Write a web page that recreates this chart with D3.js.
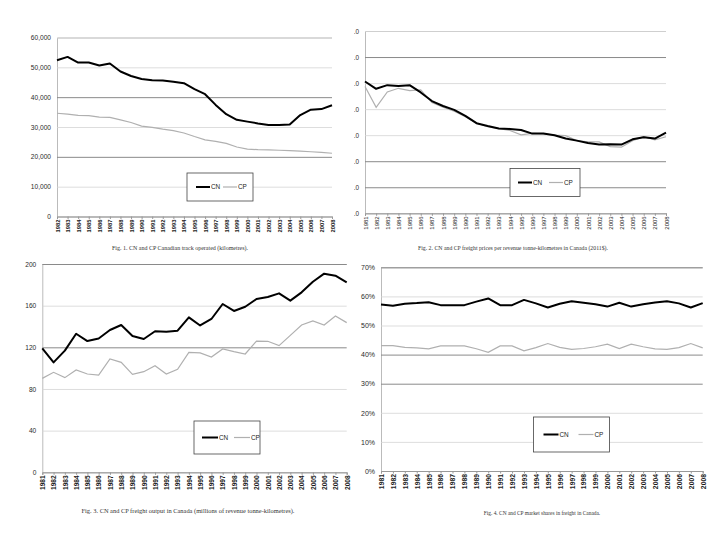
<!DOCTYPE html>
<html>
<head>
<meta charset="utf-8">
<script src="https://cdn.jsdelivr.net/npm/d3@7"></script>
<style>
  body { margin: 0; background: #fff; }
  svg { display: block; }
</style>
</head>
<body>
<svg id="chart" width="720" height="540"></svg>
<script>
// years on the x axis (fig. 1 starts one year later)
const yearsTrack = ["1982","1983","1984","1985","1986","1987","1988","1989","1990","1991","1992","1993","1994","1995",
  "1996","1997","1998","1999","2000","2001","2002","2003","2004","2005","2006","2007","2008"];
const years = ["1981","1982","1983","1984","1985","1986","1987","1988","1989","1990","1991","1992","1993","1994","1995",
  "1996","1997","1998","1999","2000","2001","2002","2003","2004","2005","2006","2007","2008"];

// Fig. 1 track operated (km)
const trackCN = [52400,53500,51600,51600,50600,51300,48600,47100,46100,45700,45600,45200,44700,42700,41000,
  37400,34300,32400,31800,31200,30700,30700,30800,34000,35800,36000,37300];
const trackCP = [34600,34300,33900,33800,33300,33200,32400,31500,30300,29900,29300,28800,28000,26800,25700,
  25200,24500,23300,22600,22400,22300,22200,22100,21900,21700,21500,21200];
const trackTicks = [0,10000,20000,30000,40000,50000,60000];

// Fig. 2 freight prices per revenue tonne-km
const priceCN = [5.06,4.78,4.92,4.89,4.92,4.64,4.31,4.12,3.97,3.74,3.46,3.35,3.26,3.24,3.20,3.06,3.06,3.00,2.87,
  2.79,2.70,2.64,2.65,2.64,2.84,2.92,2.87,3.10];
const priceCP = [4.87,4.07,4.66,4.80,4.71,4.74,4.25,4.07,3.92,3.71,3.46,3.33,3.25,3.18,3.01,3.07,3.05,3.00,2.98,
  2.79,2.74,2.74,2.56,2.54,2.79,2.94,2.82,2.94];
const priceTicks = [0,1,2,3,4,5,6,7];

// Fig. 3 freight output
const outputCN = [119,105.5,116.8,133,126,128.5,136.6,141.4,130.9,128,135.4,135,136,148.8,141,147.2,161.6,154.9,
  159,166.4,168.3,171.8,164.8,172.8,183,190.7,188.8,182.4];
const outputCP = [90.2,96,90.9,98.2,94.4,93.4,108.8,105.6,94,96.6,102.4,94.4,98.9,115.2,114.6,110.7,118.4,115.8,
  113.6,126,125.8,121.6,131.5,141.4,145.3,141.4,150,143.7];
const outputTicks = [0,40,80,120,160,200];

// Fig. 4 market shares (%)
const shareCN = [57.2,56.8,57.5,57.7,58.0,57.0,57.0,57.0,58.2,59.3,57.0,57.0,58.8,57.6,56.2,57.5,58.3,57.8,57.3,
  56.5,57.8,56.5,57.3,57.9,58.3,57.6,56.2,57.7];
const shareCP = [43.1,43.1,42.5,42.3,42.0,43.0,43.0,43.0,42.0,40.8,43.0,43.0,41.3,42.4,43.8,42.5,41.8,42.1,42.7,
  43.6,42.1,43.6,42.7,42.0,41.8,42.4,43.8,42.3];
const shareTicks = [0,10,20,30,40,50,60,70];

const panels = [
  { years: yearsTrack, cn: trackCN, cp: trackCP, ticks: trackTicks, fmt: d3.format(","),
    left: 57, right: 332, top: 37.5, bottom: 216.5, darkGrid: [40000, 20000],
    legend: { x: 187, y: 173, w: 66, h: 28, cnOff: 9, cpOff: 36, len: 14 },
    caption: "Fig. 1. CN and CP Canadian track operated (kilometres).", capX: 180, capY: 250, capSize: 6,
    yFont: 6.6, xFont: 5.8, xBold: true },
  { years: years, cn: priceCN, cp: priceCP, ticks: priceTicks, fmt: d3.format(".1f"),
    left: 365, right: 666, top: 31, bottom: 213.3, darkGrid: [6, 2, 1], clipLeft: 354,
    legend: { x: 510, y: 168.5, w: 70, h: 28, cnOff: 8, cpOff: 39, len: 14 },
    caption: "Fig. 2. CN and CP freight prices per revenue tonne-kilometres in Canada (2011$).", capX: 513, capY: 250, capSize: 5.8,
    yFont: 6.4, xFont: 6 },
  { years: years, cn: outputCN, cp: outputCP, ticks: outputTicks, fmt: d3.format("d"),
    left: 42.3, right: 346.7, top: 264, bottom: 472.3, darkGrid: [200, 120],
    legend: { x: 194, y: 421, w: 66, h: 33, cnOff: 8, cpOff: 40, len: 16 },
    caption: "Fig. 3. CN and CP freight output in Canada (millions of revenue tonne-kilometres).", capX: 188, capY: 513, capSize: 6.4,
    yFont: 6.6, xFont: 6.6, xBold: true },
  { years: years, cn: shareCN, cp: shareCP, ticks: shareTicks, fmt: d => d + "%",
    left: 381, right: 702.7, top: 267.3, bottom: 471, darkGrid: [70, 40, 30],
    legend: { x: 533.5, y: 417, w: 76, h: 35, cnOff: 10, cpOff: 45, len: 15 },
    caption: "Fig. 4. CN and CP market shares in freight in Canada.", capX: 542, capY: 515, capSize: 5.4,
    yFont: 7, xFont: 6.8, xBold: true }
];

const svg = d3.select("#chart");
svg.append("rect").attr("width", 720).attr("height", 540).attr("fill", "#fff");

panels.forEach((p, i) => {
  let g = svg.append("g");
  if (p.clipLeft) {
    svg.append("clipPath").attr("id", "clip" + i)
      .append("rect").attr("x", p.clipLeft).attr("y", 0).attr("width", 720 - p.clipLeft).attr("height", 260);
    g.attr("clip-path", `url(#clip${i})`);
  }

  const x = d3.scalePoint().domain(p.years).range([p.left, p.right]).padding(0);
  const y = d3.scaleLinear().domain([0, d3.max(p.ticks)]).range([p.bottom, p.top]);

  // y axis with gridlines
  const yAxis = g.append("g")
    .attr("transform", `translate(${p.left},0)`)
    .call(d3.axisLeft(y).tickValues(p.ticks).tickFormat(p.fmt).tickSize(-(p.right - p.left)).tickPadding(6));
  yAxis.select(".domain").attr("stroke", "#bbb");
  yAxis.selectAll(".tick line")
    .attr("stroke", d => p.darkGrid.includes(d) ? "#8a8a8a" : "#d4d4d4")
    .attr("stroke-width", d => p.darkGrid.includes(d) ? 1 : 0.8);
  yAxis.selectAll("text")
    .attr("fill", "#2a2a2a")
    .style("font-family", "'Liberation Sans', Arial, sans-serif")
    .style("font-size", p.yFont + "px");

  // x axis, labels rotated
  const xAxis = g.append("g")
    .attr("transform", `translate(0,${p.bottom})`)
    .call(d3.axisBottom(x).tickSize(2.5));
  xAxis.select(".domain").attr("stroke", "#999");
  xAxis.selectAll(".tick line").attr("stroke", "#999");
  xAxis.selectAll("text")
    .attr("transform", "rotate(-90)")
    .attr("text-anchor", "end")
    .attr("x", -3)
    .attr("y", 0)
    .attr("dy", "0.35em")
    .attr("fill", "#1a1a1a")
    .style("font-family", "'Liberation Sans', Arial, sans-serif")
    .style("font-weight", p.xBold ? "bold" : "normal")
    .style("font-size", p.xFont + "px");

  // lines
  const line = d3.line().x((d, j) => x(p.years[j])).y(d => y(d));
  g.append("path").datum(p.cp)
    .attr("fill", "none").attr("stroke", "#b0b0b0").attr("stroke-width", 1.2)
    .attr("d", line);
  g.append("path").datum(p.cn)
    .attr("fill", "none").attr("stroke", "#000").attr("stroke-width", 2)
    .attr("stroke-linejoin", "round")
    .attr("d", line);

  // legend
  const L = p.legend;
  const lg = g.append("g");
  lg.append("rect").attr("x", L.x).attr("y", L.y).attr("width", L.w).attr("height", L.h)
    .attr("fill", "#fff").attr("stroke", "#444").attr("stroke-width", 0.8);
  const my = L.y + L.h / 2;
  lg.append("line").attr("x1", L.x + L.cnOff).attr("x2", L.x + L.cnOff + L.len)
    .attr("y1", my).attr("y2", my).attr("stroke", "#000").attr("stroke-width", 2);
  lg.append("line").attr("x1", L.x + L.cpOff).attr("x2", L.x + L.cpOff + L.len)
    .attr("y1", my).attr("y2", my).attr("stroke", "#b0b0b0").attr("stroke-width", 1.2);
  lg.selectAll("text").data(["CN", "CP"]).enter().append("text")
    .attr("x", (d, j) => L.x + (j ? L.cpOff : L.cnOff) + L.len + 1)
    .attr("y", my)
    .attr("dy", "0.35em")
    .attr("fill", "#222")
    .style("font-family", "'Liberation Sans', Arial, sans-serif")
    .style("font-size", "6.4px")
    .text(d => d);

  // caption
  g.append("text")
    .attr("x", p.capX).attr("y", p.capY)
    .attr("text-anchor", "middle")
    .attr("fill", "#333")
    .style("font-family", "'Liberation Serif', 'Times New Roman', serif")
    .style("font-size", p.capSize + "px")
    .text(p.caption);
});
</script>
</body>
</html>
